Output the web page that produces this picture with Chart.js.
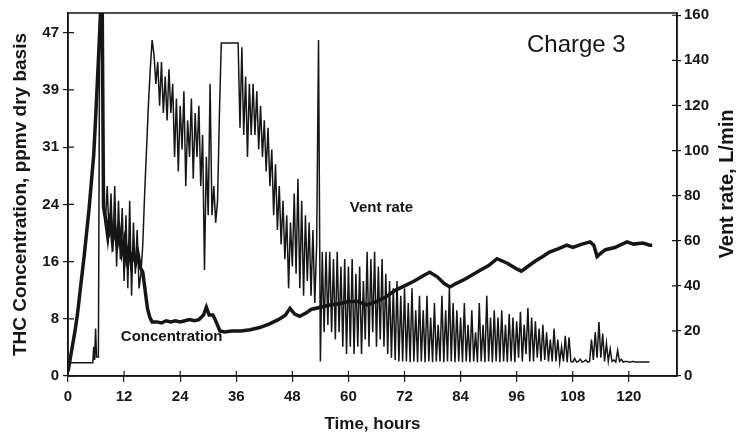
<!DOCTYPE html>
<html>
<head>
<meta charset="utf-8">
<script src="https://cdn.jsdelivr.net/npm/chart.js@4.4.1/dist/chart.umd.min.js"></script>
<style>
  html, body { margin: 0; padding: 0; background: #fff; }
  #wrap { width: 736px; height: 440px; }
</style>
</head>
<body>
<div id="wrap"><canvas id="chargeChart" width="736" height="440"></canvas></div>
<script>
// axis ticks
const hourTicks = [0, 12, 24, 36, 48, 60, 72, 84, 96, 108, 120];
const concTickValues = [0, 7.83, 15.67, 23.5, 31.33, 39.17, 47];
const concTickLabels = ["0", "8", "16", "24", "31", "39", "47"];
const ventTicks = [0, 20, 40, 60, 80, 100, 120, 140, 160];

// THC concentration (ppmv), start of run
const concEarlyHours = [0, 0.3, 5.3, 5.5, 5.7, 5.9, 6.1, 6.5, 6.8, 7.2];
const concEarly = [1.2, 1.8, 1.8, 4.0, 2.2, 6.5, 2.6, 2.6, 52, 52];

// THC concentration read every 0.4 h from 7.6 h on
const concGridStart = 7.6;
const concGridStep = 0.4;
const concGrid = [
  24, 21, 26, 19, 25, 17, 26, 15, 24, 16,
  23, 13, 22, 12, 24, 11, 21, 14, 20, 12,
  14, 18, 25, 31, 37, 42, 46, 44, 40, 43,
  37, 43, 36, 41, 35, 42, 36, 40, 30, 38,
  28, 37, 31, 39, 26, 35, 30, 38, 27, 36,
  30, 37, 26, 33, 14.5, 30, 22, 40, 22, 26,
  21, 24, 36, 45.6, 45.6, 45.6, 45.6, 45.6, 45.6, 45.6,
  45.6, 45.6, 45.6, 34, 45, 33, 41, 30, 40, 33,
  40, 33, 39, 31, 37, 30, 35, 28, 34, 26,
  31, 22, 29, 20, 26, 18, 24, 16, 22, 12,
  21, 15, 25, 14, 27, 12, 24, 11, 22, 13,
  21, 11, 20, 10, 18, 46, 2, 17, 6, 17,
  7, 17, 6, 16, 5, 17, 6, 15, 4, 16,
  3, 15, 4, 16, 3, 14, 4, 15, 3, 13,
  5, 17, 4, 16, 6, 17, 4, 15, 5, 16,
  4, 14, 3, 13, 2.5, 12, 2.2, 13, 2, 11,
  2, 12, 2, 10, 1.9, 12, 2, 9, 1.9, 11,
  2, 9, 1.9, 11, 2, 8, 1.9, 10, 2, 7,
  2, 11, 1.9, 9, 2, 12, 2, 10, 1.9, 9,
  2, 8, 1.9, 10, 2, 7, 1.9, 9, 2, 6,
  1.9, 10, 2, 7, 1.9, 11, 2, 8, 1.9, 9,
  2, 8, 1.9, 9, 2, 7, 1.9, 8.5, 2, 8,
  1.9, 7.5, 2.5, 8.8, 2, 7, 3, 9.3, 2, 8,
  2, 7.5, 2.5, 6.5, 2, 7, 2.2, 6, 2, 5,
  2, 6.5, 2, 5, 1.9, 4, 2, 5.5, 1.9, 5.3,
  2, 1.9, 2.4, 1.9, 2, 2.3, 1.9, 2, 2.2, 1.9,
  2, 5, 2.2, 6, 2.5, 7.4, 2.5, 5.8, 2, 4.5,
  2, 3.7, 2, 2.2, 1.9, 3.5, 2, 2.3, 1.9, 2,
  2, 1.9, 1.9, 2, 1.9, 1.9, 1.9, 1.9, 1.9, 1.9,
  1.9, 1.9, 1.9,
];

// vent rate (L/min)
const ventHours = [
  0, 0.5, 1, 1.5, 2, 2.5, 3, 3.5, 4, 4.5, 5, 5.5, 6, 6.5, 7, 7.3,
  7.6, 8, 8.5, 9, 9.5, 10, 10.5, 11, 11.5, 12, 12.5, 13, 13.5, 14, 14.5, 15, 15.5,
  16, 16.5, 17, 17.5, 18, 19, 20, 21, 22, 23, 24, 25, 26, 27, 28, 29, 29.6, 30.2,
  31, 31.5, 32.5, 33.5, 35, 37, 39, 41, 43, 45, 46.5, 47.5, 48.5, 49.6, 51, 52,
  54, 56, 58, 60, 62, 64, 66, 68, 70, 72, 74, 76, 77.4, 79, 80.5, 81.7, 83, 85,
  88, 90, 91.8, 94, 96, 97, 98, 100, 101.6, 103, 105, 106.7, 108, 110, 111.7,
  112.5, 113.2, 114, 115, 117, 119.6, 121, 123, 124.5, 125,
];
const ventRate = [
  2, 8, 14, 20, 27, 36, 45, 54, 64, 74, 86, 98, 118, 140, 163, 170,
  75, 70, 62, 72, 60, 66, 58, 64, 55, 60, 52, 57, 50, 55, 50, 54, 48,
  46, 38, 30, 26, 24, 24, 23.5, 24.5, 24, 24.5, 24, 24.5, 25, 24.5, 25, 27, 30.5, 27,
  27, 25, 20, 19.5, 20, 20, 20.5, 21.5, 23, 25, 27, 30, 27.5, 26.5, 28, 29.5,
  30.5, 31.5, 32, 33, 33, 31.5, 33, 35, 38, 40, 42, 44.5, 46, 44, 41, 39.5, 41, 43,
  46.7, 49, 52, 50, 47.5, 46.5, 48, 51, 53, 55, 56.5, 58, 57, 58.5, 59.5,
  58, 53, 54.5, 56, 57, 59.5, 58.5, 59, 58, 58,
];

const concPoints = concEarlyHours.map((h, i) => ({ x: h, y: concEarly[i] }))
  .concat(concGrid.map((v, i) => ({ x: concGridStart + i * concGridStep, y: v })));
const ventPoints = ventHours.map((h, i) => ({ x: h, y: ventRate[i] }));

const ink = "#161616";
const tickFont = { family: "'Liberation Sans', Arial, sans-serif", size: 15, weight: "bold" };

const framePlugin = {
  id: "frame",
  afterDraw(chart) {
    const { ctx, chartArea: a, scales } = chart;
    ctx.save();
    ctx.strokeStyle = ink;
    ctx.lineWidth = 1.5;
    ctx.strokeRect(a.left, a.top, a.right - a.left, a.bottom - a.top);

    // tick marks on the inside as well
    ctx.lineWidth = 1.2;
    ctx.beginPath();
    hourTicks.forEach((h) => {
      const px = scales.x.getPixelForValue(h);
      ctx.moveTo(px, a.bottom);
      ctx.lineTo(px, a.bottom - 5);
    });
    concTickValues.forEach((v) => {
      const py = scales.y.getPixelForValue(v);
      ctx.moveTo(a.left, py);
      ctx.lineTo(a.left + 6, py);
    });
    ventTicks.forEach((v) => {
      const py = scales.y1.getPixelForValue(v);
      ctx.moveTo(a.right, py);
      ctx.lineTo(a.right - 5, py);
    });
    ctx.stroke();

    // right axis title, reading upwards like the left one
    ctx.fillStyle = ink;
    ctx.font = "bold 20px 'Liberation Sans', Arial, sans-serif";
    ctx.textAlign = "center";
    ctx.textBaseline = "middle";
    ctx.translate(727, 184);
    ctx.rotate(-Math.PI / 2);
    ctx.fillText("Vent rate, L/min", 0, 0);
    ctx.setTransform(1, 0, 0, 1, 0, 0);

    // in-plot labels
    ctx.textAlign = "left";
    ctx.font = "24px 'Liberation Sans', Arial, sans-serif";
    ctx.fillText("Charge 3", scales.x.getPixelForValue(98.2), scales.y.getPixelForValue(45.3));
    ctx.font = "bold 15px 'Liberation Sans', Arial, sans-serif";
    ctx.fillText("Concentration", scales.x.getPixelForValue(11.3), scales.y.getPixelForValue(5.3));
    ctx.fillText("Vent rate", scales.x.getPixelForValue(60.3), scales.y.getPixelForValue(23));
    ctx.restore();
  },
};

new Chart(document.getElementById("chargeChart"), {
  type: "line",
  data: {
    datasets: [
      {
        label: "Concentration",
        data: concPoints,
        yAxisID: "y",
        borderColor: ink,
        borderWidth: 1.5,
        pointRadius: 0,
        tension: 0,
      },
      {
        label: "Vent rate",
        data: ventPoints,
        yAxisID: "y1",
        borderColor: ink,
        borderWidth: 3.5,
        pointRadius: 0,
        tension: 0,
      },
    ],
  },
  options: {
    responsive: false,
    animation: false,
    layout: { padding: { top: 13, left: 0, right: 0, bottom: 0 } },
    plugins: {
      legend: { display: false },
      tooltip: { enabled: false },
    },
    scales: {
      x: {
        type: "linear",
        min: 0,
        max: 130.3,
        afterBuildTicks: (s) => { s.ticks = hourTicks.map((v) => ({ value: v })); },
        afterFit: (s) => { s.height = 64; },
        grid: { drawOnChartArea: false, tickLength: 6, color: ink, lineWidth: 1.2 },
        border: { color: ink, width: 1.5 },
        ticks: { font: tickFont, color: ink, padding: 6, maxRotation: 0, autoSkip: false },
        title: {
          display: true,
          text: "Time, hours",
          color: ink,
          font: { family: "'Liberation Sans', Arial, sans-serif", size: 17, weight: "bold" },
          padding: { top: 0, bottom: 5 },
        },
      },
      y: {
        position: "left",
        min: 0,
        max: 49.7,
        afterBuildTicks: (s) => { s.ticks = concTickValues.map((v) => ({ value: v })); },
        afterFit: (s) => { s.width = 68; },
        grid: { drawOnChartArea: false, tickLength: 5, color: ink, lineWidth: 1.2 },
        border: { color: ink, width: 1.5 },
        ticks: {
          font: tickFont,
          color: ink,
          padding: 4,
          autoSkip: false,
          callback: (v, i) => concTickLabels[i],
        },
        title: {
          display: true,
          text: "THC Concentration, ppmv dry basis",
          color: ink,
          font: { family: "'Liberation Sans', Arial, sans-serif", size: 19, weight: "bold" },
          padding: { top: 9, bottom: 0 },
        },
      },
      y1: {
        position: "right",
        min: 0,
        max: 161,
        afterBuildTicks: (s) => { s.ticks = ventTicks.map((v) => ({ value: v })); },
        afterFit: (s) => { s.width = 59; },
        grid: { drawOnChartArea: false, tickLength: 4, color: ink, lineWidth: 1.2 },
        border: { color: ink, width: 1.5 },
        ticks: { font: tickFont, color: ink, padding: 3, autoSkip: false },
      },
    },
  },
  plugins: [framePlugin],
});
</script>
</body>
</html>
